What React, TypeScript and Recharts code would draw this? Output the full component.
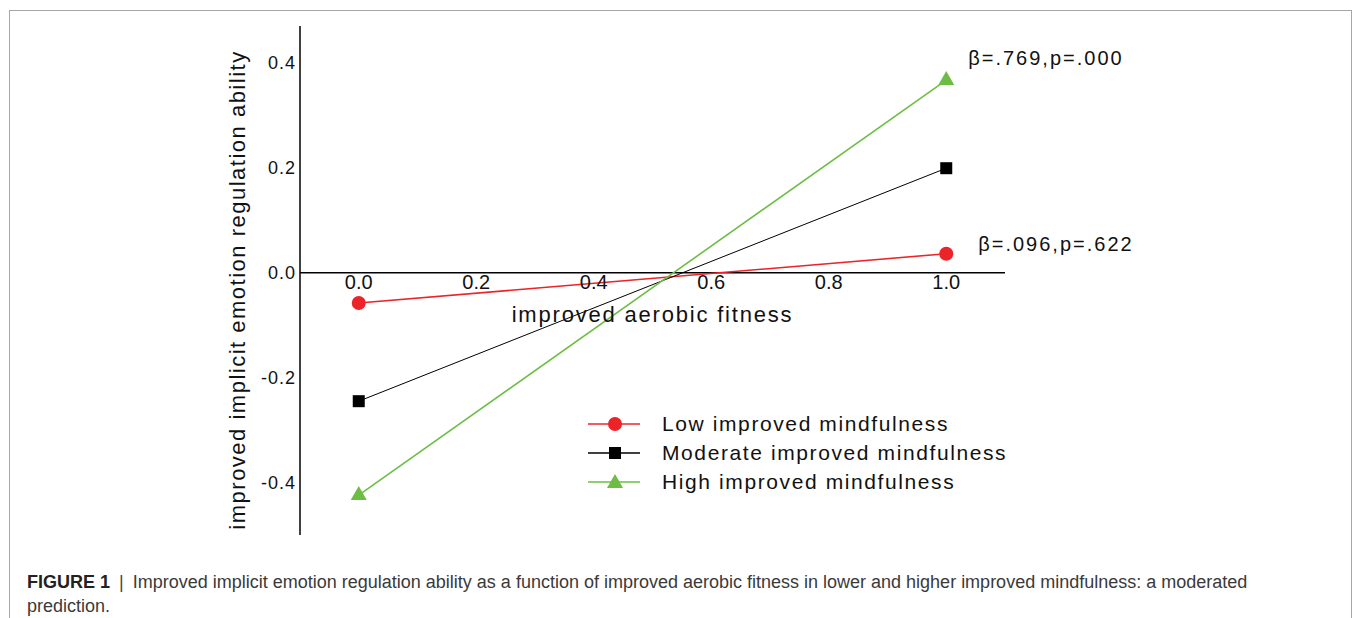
import React from 'react'
import { LineChart, Line, XAxis, YAxis, ReferenceLine, ReferenceDot, Legend } from 'recharts'

// aerobic fitness (x) and predicted emotion regulation (y) for each moderator level
const fitness = [0, 1]
const lowMindfulness = [-0.058, 0.036]
const moderateMindfulness = [-0.245, 0.199]
const highMindfulness = [-0.424, 0.367]

const xTicks = [0.0, 0.2, 0.4, 0.6, 0.8, 1.0]
const yTicks = [-0.4, -0.2, 0.0, 0.2, 0.4]

const highNote = 'β=.769,p=.000'
const lowNote = 'β=.096,p=.622'

const RED = '#ec2328'
const BLACK = '#000000'
const GREEN = '#6dbd45'
const FONT = '"Liberation Sans", Arial, sans-serif'

const data = fitness.map((x, i) => ({
  x,
  low: lowMindfulness[i],
  moderate: moderateMindfulness[i],
  high: highMindfulness[i],
}))

const series = [
  { key: 'low', name: 'Low improved mindfulness', color: RED, width: 1.6, shape: 'circle' },
  { key: 'moderate', name: 'Moderate improved mindfulness', color: BLACK, width: 1, shape: 'square' },
  { key: 'high', name: 'High improved mindfulness', color: GREEN, width: 1.6, shape: 'triangle' },
]

const Marker = ({ shape, cx, cy, color }: { shape: string; cx: number; cy: number; color: string }) => {
  if (shape === 'circle') return <circle cx={cx} cy={cy} r={7} fill={color} />
  if (shape === 'square') return <rect x={cx - 6} y={cy - 6} width={12} height={12} fill={color} />
  return <polygon points={`${cx},${cy - 9} ${cx + 8},${cy + 5} ${cx - 8},${cy + 5}`} fill={color} />
}

const makeDot = (shape: string, color: string) => (props: any) => (
  <Marker key={`${shape}-${props.index}`} shape={shape} cx={props.cx} cy={props.cy} color={color} />
)

const LegendContent = () => (
  <div style={{ fontFamily: FONT, fontSize: 21, letterSpacing: 1.6, color: '#111' }}>
    {series.map((s) => (
      <div key={s.key} style={{ display: 'flex', alignItems: 'center', height: 29 }}>
        <svg width={74} height={20} style={{ flexShrink: 0 }}>
          <line x1={0} x2={52} y1={10} y2={10} stroke={s.color} strokeWidth={1.6} />
          <Marker shape={s.shape} cx={27} cy={s.shape === 'triangle' ? 11 : 10} color={s.color} />
        </svg>
        <span style={{ whiteSpace: 'nowrap' }}>{s.name}</span>
      </div>
    ))}
  </div>
)

export default function App() {
  return (
    <div style={{ position: 'absolute', left: 0, top: 0, width: 1357, height: 618, background: '#fff', overflow: 'hidden' }}>
      <div
        style={{
          position: 'absolute',
          left: 9,
          top: 10,
          width: 1341,
          height: 700,
          border: '1.5px solid #a6a6a6',
        }}
      />
      <div style={{ position: 'absolute', left: 0, top: 0 }}>
        <LineChart width={1357} height={618} data={data} margin={{ top: 26, right: 352, bottom: 83, left: 240 }}>
          <XAxis type="number" dataKey="x" domain={[-0.1, 1.1]} hide />
          <YAxis
            type="number"
            width={60}
            domain={[-0.5, 0.47]}
            ticks={yTicks}
            allowDataOverflow
            tickFormatter={(v: number) => v.toFixed(1)}
            axisLine={{ stroke: BLACK, strokeWidth: 1.5 }}
            tickLine={false}
            tickSize={0}
            tickMargin={4}
            tick={{ fill: '#111', fontSize: 18, fontFamily: FONT, letterSpacing: 1 }}
          />
          <ReferenceLine
            y={0}
            stroke={BLACK}
            strokeWidth={1.5}
            label={{
              value: 'improved aerobic fitness',
              position: 'bottom',
              offset: 34,
              fill: '#111',
              fontSize: 22,
              fontFamily: FONT,
              letterSpacing: 1.8,
            }}
          />
          {xTicks.map((t) => (
            <ReferenceDot
              key={t}
              x={t}
              y={0}
              r={0}
              stroke="none"
              label={{ value: t.toFixed(1), position: 'bottom', offset: 2, fill: '#111', fontSize: 20, fontFamily: FONT }}
            />
          ))}
          {series.map((s) => (
            <Line
              key={s.key}
              type="linear"
              dataKey={s.key}
              name={s.name}
              stroke={s.color}
              strokeWidth={s.width}
              dot={makeDot(s.shape, s.color)}
              activeDot={false}
              isAnimationActive={false}
            />
          ))}
          <ReferenceDot
            x={fitness[1]}
            y={highMindfulness[1]}
            r={0}
            stroke="none"
            label={{ value: highNote, position: 'right', offset: 22, dy: -22, fill: '#111', fontSize: 20, fontFamily: FONT, letterSpacing: 2 }}
          />
          <ReferenceDot
            x={fitness[1]}
            y={lowMindfulness[1]}
            r={0}
            stroke="none"
            label={{ value: lowNote, position: 'right', offset: 32, dy: -10, fill: '#111', fontSize: 20, fontFamily: FONT, letterSpacing: 2 }}
          />
          <Legend
            layout="vertical"
            align="center"
            verticalAlign="middle"
            content={<LegendContent />}
            wrapperStyle={{ left: 588, top: 409, width: 460 }}
          />
        </LineChart>
      </div>
      <div
        style={{
          position: 'absolute',
          left: 238,
          top: 290,
          transform: 'translate(-50%, -50%) rotate(-90deg)',
          whiteSpace: 'nowrap',
          fontFamily: FONT,
          fontSize: 22,
          letterSpacing: 1.5,
          color: '#111',
          lineHeight: '24px',
        }}
      >
        improved implicit emotion regulation ability
      </div>
      <div
        style={{
          position: 'absolute',
          left: 27,
          top: 570,
          width: 1300,
          fontFamily: FONT,
          fontSize: 18,
          lineHeight: '24px',
          color: '#3a3a3a',
          whiteSpace: 'nowrap',
        }}
      >
        <div>
          <b style={{ color: '#222' }}>FIGURE 1</b>
          <span style={{ margin: '0 9px', color: '#444' }}>|</span>
          <span>
            Improved implicit emotion regulation ability as a function of improved aerobic fitness in lower and higher improved mindfulness: a moderated
          </span>
        </div>
        <div>prediction.</div>
      </div>
    </div>
  )
}
